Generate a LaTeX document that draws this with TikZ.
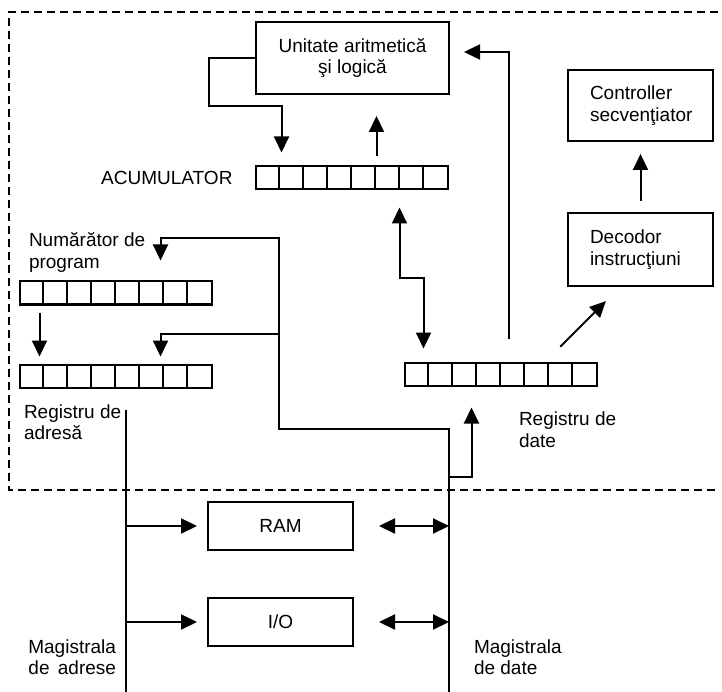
\documentclass[tikz,border=0pt]{standalone}
\usepackage{fontspec}
\setmainfont{Liberation Sans}
\usetikzlibrary{arrows.meta}
\begin{document}
\begin{tikzpicture}[x=1pt,y=-1pt, line width=2pt,
  every node/.style={font=\fontsize{19}{21.5}\selectfont},
  box/.style={draw, inner sep=0pt, align=center},
  tbox/.style={draw, inner ysep=0pt, inner xsep=22pt, text width=101pt, align=left, minimum height=72pt},
  reg/.style={draw, minimum width=192pt, minimum height=23pt, inner sep=0pt},
  arr/.style={-{Triangle[length=16pt,width=15pt]}},
  biarr/.style={{Triangle[length=16pt,width=15pt]}-{Triangle[length=16pt,width=15pt]}},
  lbl/.style={inner sep=0pt},
  border/.style={line width=1.6pt, dash pattern=on 8pt off 5pt}]
\useasboundingbox (0,0) rectangle (722,692);

% dashed CPU border
\draw[border] (718,12) -- (9,12) -- (9,490) -- (718,490);

% boxes
\node[box, minimum width=193pt, minimum height=72pt] (alu) at (352.5,58) {Unitate aritmetică\\şi logică};
\node[tbox, minimum height=71pt] (ctl) at (640.5,105.5) {Controller\\secvenţiator};
\node[tbox, minimum height=73pt] (dec) at (640.5,249.5) {Decodor\\instrucţiuni};
\node[box, minimum width=145pt, minimum height=48pt] (ram) at (280.5,526) {RAM};
\node[box, minimum width=145pt, minimum height=48pt] (io) at (280.5,622) {I/O};

% registers
\node[reg] (acc) at (351.5,178) {};
\node[reg] (pc) at (115.5,293) {};
\node[reg] (ar) at (115.5,376) {};
\node[reg] (dr) at (500.5,374) {};
\foreach \r in {acc,pc,ar,dr}{
  \foreach \i in {1,...,7}{
    \draw ([xshift=\i*24pt]\r.north west) -- ([xshift=\i*24pt]\r.south west);
  }
}

% labels
\node[lbl, anchor=east] (acclbl) at ([xshift=-21pt]acc.west) {ACUMULATOR};
\node[lbl, anchor=west, align=left] (pclbl) at (28,252.5) {Numărător de\\program};
\node[lbl, anchor=west, align=left] (arlbl) at (23,422) {Registru de\\adresă};
\node[lbl, anchor=west, align=left] (drlbl) at (518,429.5) {Registru de\\date};
\node[lbl, anchor=east, align=right] (ablbl) at (117,657) {Magistrala\\de\hspace{3pt} adrese};
\node[lbl, anchor=west, align=left] (dblbl) at (473,657) {Magistrala\\de date};

% coordinates
\coordinate (accIn) at ([xshift=27pt]acc.north west);
\coordinate (accUp) at ([xshift=122pt]acc.north west);
\coordinate (accDn) at ([xshift=145pt]acc.south west);
\coordinate (drTop) at ([xshift=20pt]dr.north west);
\coordinate (drUp) at ([xshift=105pt]dr.north west);
\coordinate (drDiag) at ([xshift=142pt]dr.north west);
\coordinate (decDiag) at ([xshift=53pt]dec.south west);
\coordinate (drIn) at ([xshift=68pt]dr.south west);
\coordinate (pcOut) at ([xshift=21pt]pc.south west);
\coordinate (arIn1) at ([xshift=21pt]ar.north west);
\coordinate (pcIn) at ([xshift=142pt]pc.north west);
\coordinate (arIn2) at ([xshift=142pt]ar.north west);
\coordinate (fb) at (279,238);
\coordinate (fb2) at (279,334);
\coordinate (dbTop) at (449,429);
\coordinate (dbBot) at (449,692);
\coordinate (dbStub) at (449,477);
\coordinate (abTop) at (126,410);
\coordinate (abBot) at (126,692);

% ALU feedback to accumulator
\draw[arr, shorten >=13pt] (alu.west) -- ++(-46,0) -- ++(0,48) -| (accIn);
% accumulator to ALU
\draw[arr, shorten <=9pt, shorten >=21pt] (accUp) -- (accUp |- alu.south);
% data register to ALU
\draw[arr, shorten <=23pt, shorten >=14pt] (drUp) |- ([yshift=6pt]alu.east);
% decoder to controller
\draw[arr, shorten <=11pt, shorten >=12pt] (dec.north) -- (ctl.south);
% data register to decoder
\draw[arr, shorten <=21pt, shorten >=20pt] (drDiag) -- (decDiag);
% accumulator <-> data register
\draw[biarr, shorten <=17pt, shorten >=13pt] (accDn) -- ++(0,88) -| (drTop);
% PC to address register
\draw[arr, shorten <=7pt, shorten >=7pt] (pcOut) -- (arIn1);

% data bus and feedback to PC / AR
\draw[arr, shorten >=20pt] (dbBot) -- (dbTop) -| (fb) -| (pcIn);
\draw[arr, shorten >=7pt] (fb2) -| (arIn2);
\draw[arr, shorten >=21pt] (dbStub) -| (drIn);

% address bus
\draw (abTop) -- (abBot);

% memory and I/O connections
\draw[arr, shorten >=10pt] (abTop |- ram.west) -- (ram.west);
\draw[arr, shorten >=10pt] (abTop |- io.west) -- (io.west);
\draw[biarr, shorten <=25pt] (ram.east) -- (dbTop |- ram.east);
\draw[biarr, shorten <=25pt] (io.east) -- (dbTop |- io.east);
\end{tikzpicture}
\end{document}
